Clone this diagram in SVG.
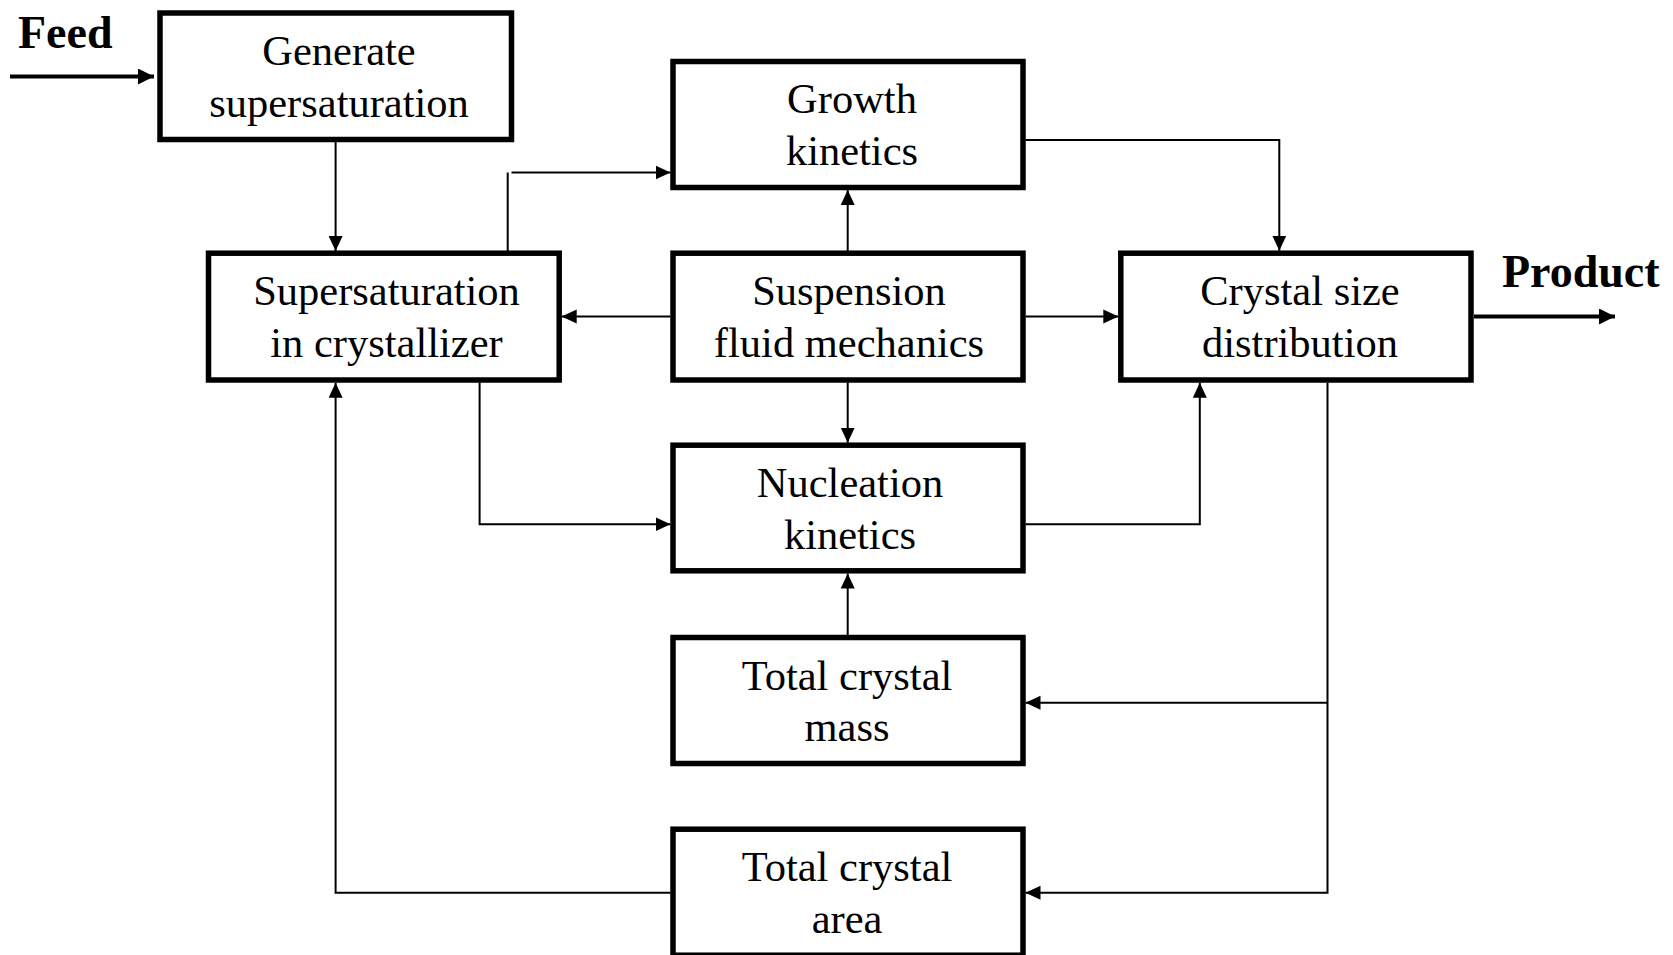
<svg xmlns="http://www.w3.org/2000/svg" width="1673" height="955" viewBox="0 0 1673 955">
  <style>
    .box { fill: #ffffff; stroke: #000000; stroke-width: 5.5; }
    .lbl { font-family: "Liberation Serif", "Times New Roman", serif; font-size: 42.5px; fill: #000000; text-anchor: middle; }
    .io { font-family: "Liberation Serif", "Times New Roman", serif; font-size: 46px; font-weight: bold; fill: #000000; }
    .wire { fill: none; stroke: #000000; stroke-width: 2; }
    .flow { fill: none; stroke: #000000; stroke-width: 4; }
  </style>
  <defs>
    <marker id="arrow" viewBox="0 0 15 15" refX="15" refY="7.5" markerWidth="15" markerHeight="15" markerUnits="userSpaceOnUse" orient="auto">
      <path d="M0,0.5 L15,7.5 L0,14.5 z" fill="#000000"/>
    </marker>
    <marker id="arrow-big" viewBox="0 0 16 16" refX="16" refY="8" markerWidth="16" markerHeight="16" markerUnits="userSpaceOnUse" orient="auto">
      <path d="M0,0 L16,8 L0,16 z" fill="#000000"/>
    </marker>
  </defs>
  <rect width="1673" height="955" fill="#ffffff"/>

  <!-- process streams in and out -->
  <g id="streams">
    <text class="io" x="18" y="48">Feed</text>
    <line class="flow" x1="10" y1="76.5" x2="154" y2="76.5" marker-end="url(#arrow-big)"/>
    <text class="io" x="1502" y="287">Product</text>
    <line class="flow" x1="1474" y1="316.5" x2="1615" y2="316.5" marker-end="url(#arrow-big)"/>
  </g>

  <!-- connectors between blocks -->
  <g id="connectors">
    <!-- generate -> supersaturation in crystallizer -->
    <line class="wire" x1="335.6" y1="142" x2="335.6" y2="251" marker-end="url(#arrow)"/>
    <!-- supersaturation -> growth kinetics -->
    <line class="wire" x1="507.7" y1="251" x2="507.7" y2="172.5"/>
    <line class="wire" x1="511.5" y1="172.5" x2="670.5" y2="172.5" marker-end="url(#arrow)"/>
    <!-- suspension -> growth -->
    <line class="wire" x1="847.7" y1="251" x2="847.7" y2="190" marker-end="url(#arrow)"/>
    <!-- suspension -> supersaturation -->
    <line class="wire" x1="670.5" y1="316.5" x2="561.7" y2="316.5" marker-end="url(#arrow)"/>
    <!-- suspension -> crystal size distribution -->
    <line class="wire" x1="1025.5" y1="316.5" x2="1118.3" y2="316.5" marker-end="url(#arrow)"/>
    <!-- growth -> crystal size distribution -->
    <polyline class="wire" points="1025.5,140 1279.3,140 1279.3,250.7" marker-end="url(#arrow)"/>
    <!-- suspension -> nucleation -->
    <line class="wire" x1="847.7" y1="382.5" x2="847.7" y2="442.7" marker-end="url(#arrow)"/>
    <!-- supersaturation -> nucleation -->
    <polyline class="wire" points="479.6,382.5 479.6,524.3 670.5,524.3" marker-end="url(#arrow)"/>
    <!-- nucleation -> crystal size distribution -->
    <polyline class="wire" points="1025.5,524.3 1199.8,524.3 1199.8,382.7" marker-end="url(#arrow)"/>
    <!-- total mass -> nucleation -->
    <line class="wire" x1="847.7" y1="635" x2="847.7" y2="573.5" marker-end="url(#arrow)"/>
    <!-- crystal size distribution -> totals -->
    <polyline class="wire" points="1327.5,382.7 1327.5,892.7 1025.5,892.7" marker-end="url(#arrow)"/>
    <line class="wire" x1="1327.5" y1="702.7" x2="1025.5" y2="702.7" marker-end="url(#arrow)"/>
    <!-- total area -> supersaturation -->
    <polyline class="wire" points="670.5,892.7 335.6,892.7 335.6,382.7" marker-end="url(#arrow)"/>
  </g>

  <g id="generate">
    <rect class="box" x="160" y="13" width="351.5" height="126.5"/>
    <text class="lbl" x="339" y="65">Generate</text>
    <text class="lbl" x="339" y="116.5">supersaturation</text>
  </g>

  <g id="growth">
    <rect class="box" x="673" y="61.5" width="350" height="126"/>
    <text class="lbl" x="852" y="113">Growth</text>
    <text class="lbl" x="852" y="164.5">kinetics</text>
  </g>

  <g id="supersaturation">
    <rect class="box" x="208.5" y="253.2" width="350.7" height="126.8"/>
    <text class="lbl" x="386.5" y="305">Supersaturation</text>
    <text class="lbl" x="386.5" y="356.5">in crystallizer</text>
  </g>

  <g id="suspension">
    <rect class="box" x="673" y="253.2" width="350" height="126.8"/>
    <text class="lbl" x="849" y="305">Suspension</text>
    <text class="lbl" x="849" y="356.5">fluid mechanics</text>
  </g>

  <g id="csd">
    <rect class="box" x="1120.8" y="253.2" width="350.2" height="126.8"/>
    <text class="lbl" x="1300" y="305">Crystal size</text>
    <text class="lbl" x="1300" y="356.5">distribution</text>
  </g>

  <g id="nucleation">
    <rect class="box" x="673" y="445.2" width="350" height="125.6"/>
    <text class="lbl" x="850" y="497">Nucleation</text>
    <text class="lbl" x="850" y="548.5">kinetics</text>
  </g>

  <g id="total-mass">
    <rect class="box" x="673" y="637.5" width="350" height="126"/>
    <text class="lbl" x="847" y="689.5">Total crystal</text>
    <text class="lbl" x="847" y="741">mass</text>
  </g>

  <g id="total-area">
    <rect class="box" x="673" y="829.2" width="350" height="126"/>
    <text class="lbl" x="847" y="881">Total crystal</text>
    <text class="lbl" x="847" y="932.5">area</text>
  </g>
</svg>
